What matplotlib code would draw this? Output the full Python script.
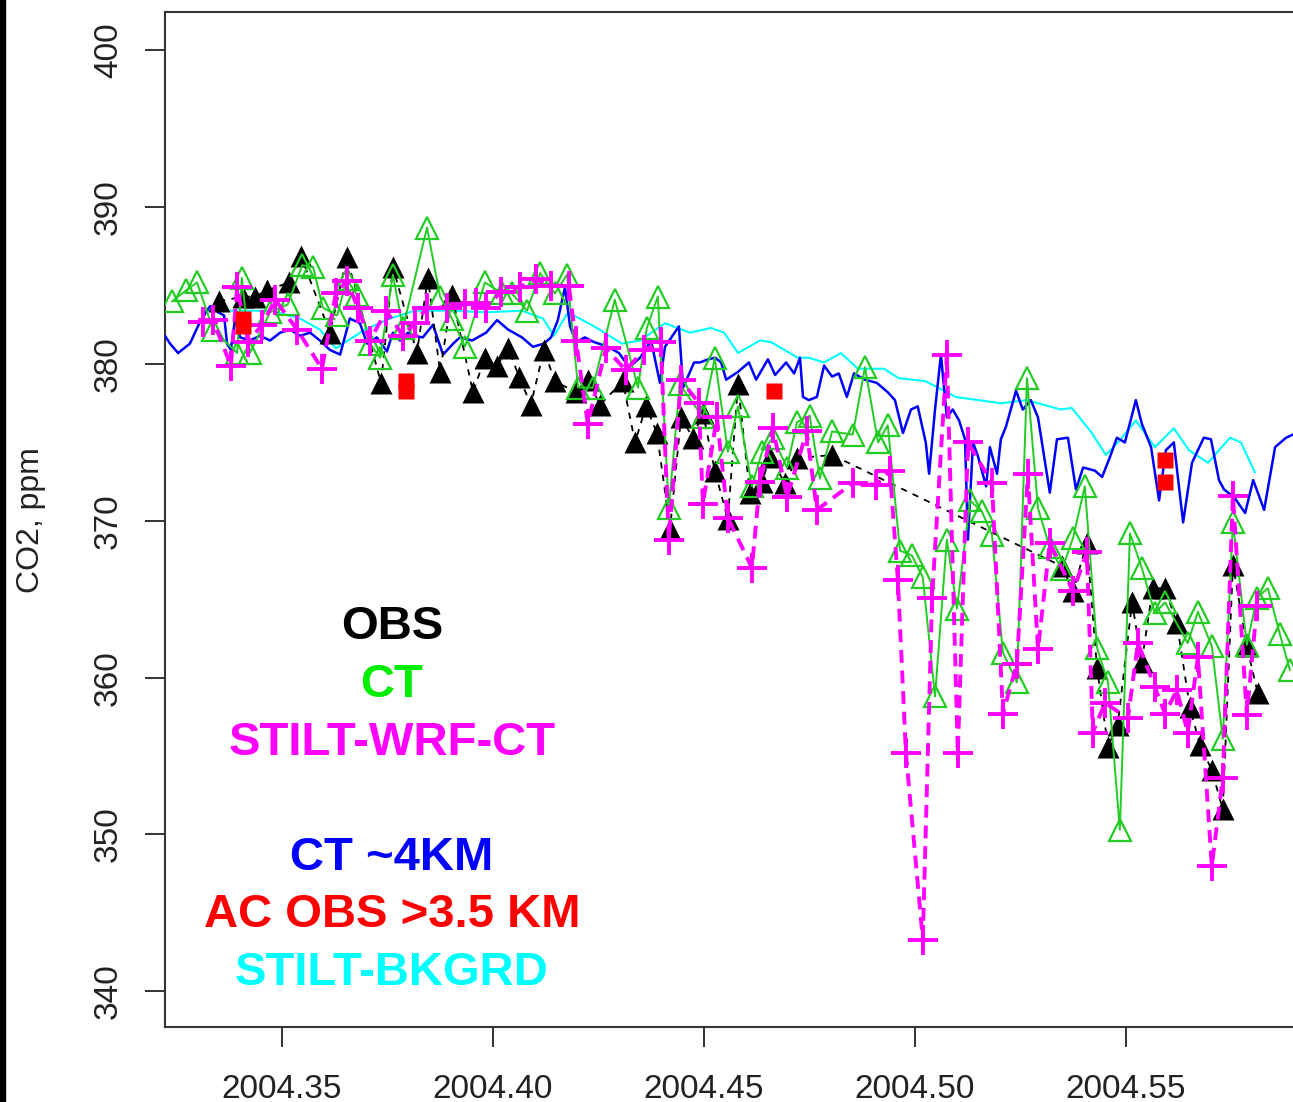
import matplotlib
matplotlib.use("Agg")
import matplotlib.pyplot as plt
from matplotlib.patches import Rectangle

plt.rcParams['font.family'] = ['Liberation Sans', 'DejaVu Sans']

# Tower observations (OBS)
obs_t = [2004.3351, 2004.3408, 2004.3436, 2004.3465, 2004.3517, 2004.3545, 2004.3614, 2004.3654,
         2004.3735, 2004.3763, 2004.3820, 2004.3846, 2004.3875, 2004.3903, 2004.3953, 2004.3981,
         2004.4010, 2004.4036, 2004.4062, 2004.4090, 2004.4121, 2004.4147, 2004.4197, 2004.4225,
         2004.4254, 2004.4308, 2004.4337, 2004.4363, 2004.4389, 2004.4420, 2004.4446, 2004.4474,
         2004.4498, 2004.4526, 2004.4557, 2004.4581, 2004.4609, 2004.4638, 2004.4657, 2004.4692,
         2004.4721, 2004.4804, 2004.5349, 2004.5375, 2004.5408, 2004.5432, 2004.5458, 2004.5481,
         2004.5515, 2004.5538, 2004.5564, 2004.5593, 2004.5621, 2004.5652, 2004.5676, 2004.5704,
         2004.5730, 2004.5754, 2004.5787, 2004.5813]
obs_co2 = [384.0, 384.3, 384.3, 384.7, 385.2, 386.9, 382.0, 386.8, 378.8, 386.2,
           380.7, 385.5, 379.5, 384.4, 378.2, 380.4, 379.9, 381.0, 379.2, 377.4,
           380.9, 378.9, 378.2, 379.0, 377.4, 378.9, 375.0, 377.3, 375.6, 369.5,
           376.6, 375.3, 376.9, 373.2, 370.1, 378.7, 371.8, 372.5, 374.1, 372.4,
           374.0, 374.2, 367.1, 365.5, 368.6, 360.6, 355.6, 357.0, 364.8, 361.0,
           365.7, 365.7, 363.5, 358.1, 355.7, 354.1, 351.6, 367.2, 362.0, 359.0]

# CarbonTracker sampled at the tower (CT)
ct_t = [2004.3240, 2004.3273, 2004.3299, 2004.3337, 2004.3394, 2004.3405, 2004.3424, 2004.3472,
        2004.3514, 2004.3548, 2004.3574, 2004.3597, 2004.3631, 2004.3654, 2004.3678, 2004.3709,
        2004.3733, 2004.3763, 2004.3787, 2004.3844, 2004.3875, 2004.3903, 2004.3934, 2004.3981,
        2004.4022, 2004.4045, 2004.4081, 2004.4112, 2004.4147, 2004.4176, 2004.4202, 2004.4237,
        2004.4289, 2004.4344, 2004.4365, 2004.4391, 2004.4417, 2004.4443, 2004.4498, 2004.4526,
        2004.4557, 2004.4581, 2004.4614, 2004.4638, 2004.4664, 2004.4697, 2004.4721, 2004.4751,
        2004.4775, 2004.4804, 2004.4853, 2004.4882, 2004.4913, 2004.4936, 2004.4965, 2004.4993,
        2004.5019, 2004.5048, 2004.5076, 2004.5100, 2004.5131, 2004.5159, 2004.5183, 2004.5209,
        2004.5242, 2004.5266, 2004.5292, 2004.5320, 2004.5349, 2004.5375, 2004.5403, 2004.5432,
        2004.5458, 2004.5486, 2004.5510, 2004.5538, 2004.5569, 2004.5593, 2004.5647, 2004.5671,
        2004.5704, 2004.5730, 2004.5754, 2004.5787, 2004.5811, 2004.5837, 2004.5865, 2004.5889]
ct_co2 = [384.0, 384.7, 385.2, 382.2, 380.7, 385.5, 380.7, 383.3, 383.8, 386.3,
          386.2, 383.6, 383.1, 385.4, 384.4, 381.3, 380.4, 385.7, 382.3, 388.7,
          384.3, 382.9, 381.1, 385.2, 384.5, 384.5, 383.4, 385.8, 384.5, 385.7,
          378.5, 378.5, 384.1, 378.5, 382.3, 384.3, 370.8, 378.7, 376.6, 380.4,
          374.4, 377.3, 372.2, 374.4, 375.3, 373.4, 376.3, 376.7, 372.7, 375.7,
          375.5, 379.8, 375.0, 376.1, 368.1, 367.8, 366.4, 358.8, 368.8, 364.4,
          371.3, 370.6, 369.1, 361.6, 359.7, 379.1, 370.8, 368.3, 366.9, 368.9,
          372.2, 361.9, 359.7, 350.3, 369.2, 367.0, 364.1, 364.8, 362.2, 364.2,
          362.0, 356.1, 369.9, 362.1, 365.1, 365.7, 362.8, 360.5]

# STILT driven by WRF with CT boundary conditions
stilt_t = [2004.3313, 2004.3337, 2004.3379, 2004.3394, 2004.3420, 2004.3453, 2004.3484, 2004.3536,
           2004.3595, 2004.3628, 2004.3654, 2004.3680, 2004.3709, 2004.3747, 2004.3787, 2004.3815,
           2004.3844, 2004.3891, 2004.3934, 2004.3960, 2004.3984, 2004.4019, 2004.4064, 2004.4102,
           2004.4138, 2004.4180, 2004.4197, 2004.4225, 2004.4268, 2004.4315, 2004.4358, 2004.4398,
           2004.4417, 2004.4446, 2004.4488, 2004.4498, 2004.4531, 2004.4557, 2004.4614, 2004.4633,
           2004.4664, 2004.4697, 2004.4744, 2004.4768, 2004.4853, 2004.4908, 2004.4941, 2004.4960,
           2004.4979, 2004.5019, 2004.5041, 2004.5076, 2004.5102, 2004.5126, 2004.5183, 2004.5209,
           2004.5242, 2004.5268, 2004.5292, 2004.5320, 2004.5375, 2004.5408, 2004.5422, 2004.5451,
           2004.5505, 2004.5529, 2004.5569, 2004.5593, 2004.5621, 2004.5647, 2004.5671, 2004.5704,
           2004.5730, 2004.5754, 2004.5787, 2004.5811]
stilt_co2 = [382.7, 382.8, 379.9, 384.9, 381.4, 382.5, 384.1, 382.2, 379.7, 384.5,
             385.3, 383.6, 381.5, 383.4, 381.8, 382.6, 383.6, 383.6, 383.8, 383.9,
             383.6, 384.6, 384.9, 385.4, 385.0, 385.0, 381.5, 376.2, 381.0, 379.6,
             380.9, 381.4, 368.8, 379.0, 377.5, 371.1, 376.6, 370.2, 367.0, 372.5,
             375.9, 371.5, 375.7, 370.7, 372.4, 372.3, 373.2, 366.2, 355.2, 343.3,
             365.1, 380.6, 355.2, 375.0, 372.4, 357.7, 360.9, 373.0, 361.8, 368.6,
             365.5, 368.0, 356.5, 358.4, 357.4, 362.2, 359.4, 357.7, 359.2, 356.5,
             361.3, 348.0, 353.6, 371.6, 357.6, 364.6]

# CarbonTracker at about 4 km
ct4km_t = [2004.3223, 2004.3235, 2004.3254, 2004.3282, 2004.3306, 2004.3330, 2004.3349, 2004.3363,
           2004.3370, 2004.3379, 2004.3389, 2004.3401, 2004.3424, 2004.3448, 2004.3472, 2004.3496,
           2004.3519, 2004.3543, 2004.3567, 2004.3590, 2004.3614, 2004.3638, 2004.3661, 2004.3685,
           2004.3702, 2004.3725, 2004.3749, 2004.3763, 2004.3780, 2004.3799, 2004.3811, 2004.3834,
           2004.3858, 2004.3882, 2004.3906, 2004.3922, 2004.3951, 2004.3984, 2004.4010, 2004.4036,
           2004.4069, 2004.4095, 2004.4121, 2004.4138, 2004.4154, 2004.4171, 2004.4183, 2004.4197,
           2004.4218, 2004.4240, 2004.4273, 2004.4299, 2004.4323, 2004.4349, 2004.4375, 2004.4396,
           2004.4408, 2004.4441, 2004.4451, 2004.4477, 2004.4491, 2004.4510, 2004.4527, 2004.4541,
           2004.4553, 2004.4581, 2004.4607, 2004.4624, 2004.4652, 2004.4669, 2004.4695, 2004.4714,
           2004.4728, 2004.4735, 2004.4749, 2004.4768, 2004.4785, 2004.4804, 2004.4820, 2004.4839,
           2004.4856, 2004.4882, 2004.4910, 2004.4936, 2004.4953, 2004.4972, 2004.4991, 2004.5007,
           2004.5026, 2004.5034, 2004.5048, 2004.5062, 2004.5076, 2004.5090, 2004.5105, 2004.5119,
           2004.5126, 2004.5138, 2004.5150, 2004.5169, 2004.5178, 2004.5195, 2004.5204, 2004.5216,
           2004.5240, 2004.5256, 2004.5275, 2004.5292, 2004.5320, 2004.5337, 2004.5363, 2004.5382,
           2004.5399, 2004.5427, 2004.5444, 2004.5463, 2004.5479, 2004.5498, 2004.5524, 2004.5538,
           2004.5560, 2004.5579, 2004.5595, 2004.5614, 2004.5636, 2004.5657, 2004.5685, 2004.5702,
           2004.5721, 2004.5733, 2004.5757, 2004.5783, 2004.5802, 2004.5828, 2004.5854, 2004.5880,
           2004.5896]
ct4km_co2 = [381.8, 381.3, 380.7, 381.3, 382.7, 383.7, 383.3, 383.1, 381.3, 380.9,
             382.9, 381.7, 381.5, 381.8, 381.5, 382.0, 382.2, 381.8, 382.0, 381.5,
             380.9, 380.6, 382.9, 382.6, 381.3, 381.7, 380.8, 382.0, 381.5, 382.0,
             381.8, 381.7, 382.5, 380.6, 381.3, 381.7, 381.5, 382.0, 382.8, 382.2,
             381.7, 381.1, 381.3, 381.7, 382.8, 384.9, 382.4, 381.4, 381.7, 381.4,
             381.1, 380.7, 379.8, 380.4, 381.5, 378.8, 381.1, 382.4, 378.5, 380.1,
             380.1, 380.3, 380.4, 380.1, 379.0, 379.5, 380.1, 379.0, 380.3, 379.3,
             380.1, 379.4, 380.4, 377.9, 377.7, 377.9, 379.9, 379.2, 379.4, 377.9,
             379.4, 379.0, 378.8, 378.2, 377.7, 375.6, 377.1, 377.3, 375.0, 373.0,
             377.1, 380.6, 376.6, 377.1, 376.4, 375.2, 368.8, 375.0, 374.1, 372.2,
             374.7, 373.0, 375.2, 376.0, 378.3, 377.1, 377.7, 376.6, 371.8, 375.2,
             375.3, 372.0, 373.4, 373.2, 372.8, 374.1, 375.3, 375.0, 377.7, 376.2,
             374.7, 371.3, 374.5, 375.0, 369.9, 373.7, 375.3, 375.2, 372.6, 372.0,
             371.5, 370.5, 372.6, 370.7, 374.7, 375.3, 375.5]

# Aircraft profiles above 3.5 km
ac_t = [2004.3408, 2004.3408, 2004.3794, 2004.3794, 2004.4666, 2004.5593, 2004.5593]
ac_co2 = [382.9, 382.4, 378.9, 378.3, 378.3, 373.9, 372.5]

# STILT background
bkg_t = [2004.3318, 2004.3401, 2004.3477, 2004.3543, 2004.3590, 2004.3628, 2004.3697, 2004.3756,
         2004.3815, 2004.3898, 2004.3984, 2004.4069, 2004.4119, 2004.4145, 2004.4178, 2004.4240,
         2004.4306, 2004.4349, 2004.4408, 2004.4467, 2004.4517, 2004.4548, 2004.4581, 2004.4633,
         2004.4659, 2004.4723, 2004.4749, 2004.4785, 2004.4825, 2004.4865, 2004.4927, 2004.4962,
         2004.5026, 2004.5097, 2004.5150, 2004.5204, 2004.5266, 2004.5346, 2004.5372, 2004.5417,
         2004.5453, 2004.5488, 2004.5524, 2004.5569, 2004.5614, 2004.5650, 2004.5695, 2004.5747,
         2004.5773, 2004.5806]
bkg_co2 = [383.4, 383.4, 383.4, 382.9, 382.2, 381.0, 382.2, 382.9, 383.4, 383.4,
           383.3, 383.4, 382.9, 381.8, 383.3, 382.4, 381.3, 381.5, 382.6, 382.0,
           382.3, 382.0, 380.7, 381.5, 381.4, 380.4, 380.4, 380.1, 380.7, 379.7,
           379.7, 379.1, 378.9, 377.9, 377.7, 377.5, 377.7, 377.1, 377.2, 375.7,
           374.2, 375.2, 376.4, 374.7, 375.9, 374.5, 373.7, 375.3, 375.0, 373.1]

x_ticks = [2004.35, 2004.40, 2004.45, 2004.50, 2004.55]
y_ticks = [340, 350, 360, 370, 380, 390, 400]

legend_rows = [("OBS", "black"), ("CT", "#00ee00"), ("STILT-WRF-CT", "magenta"),
               ("CT ~4KM", "blue"), ("AC OBS >3.5 KM", "red"), ("STILT-BKGRD", "cyan")]

fig = plt.figure(figsize=(12.93, 11.02), dpi=100)
ax = fig.add_axes([165 / 1293, 75 / 1102, 1135 / 1293, 1015 / 1102])

ax.plot(bkg_t, bkg_co2, color="cyan", lw=1.5, zorder=2)
ax.plot(ct4km_t, ct4km_co2, color="blue", lw=1.8, zorder=3)
ax.plot(obs_t, obs_co2, color="black", lw=1.3, ls=(0, (3.5, 3.5)),
        marker="^", ms=15.5, mec="none", mfc="black", zorder=4)
ax.plot(ct_t, ct_co2, color="#22cc22", lw=1.4, marker="^", ms=15.5,
        mfc="none", mec="#22cc22", mew=1.6, zorder=5)
ax.plot(stilt_t, stilt_co2, color="magenta", lw=2.8, ls=(0, (3.3, 2.0)),
        marker="+", ms=21, mew=2.8, zorder=6)
ax.plot(ac_t, ac_co2, ls="none", marker="s", ms=12, mfc="red", mec="none", zorder=7)

ax.set_xlim(2004.3223, 2004.5913)
ax.set_ylim(337.72, 402.45)
ax.set_xticks(x_ticks)
ax.set_xticklabels([f"{v:.2f}" for v in x_ticks])
ax.set_yticks(y_ticks)
ax.set_yticklabels([str(v) for v in y_ticks], rotation=90, va="center")

ax.tick_params(axis="both", length=14.5, width=1.4, color="#333333",
               labelsize=24, labelcolor="#222222", pad=19)
ax.tick_params(axis="y", pad=15)
for side in ["left", "bottom", "top", "right"]:
    ax.spines[side].set_linewidth(1.5)
    ax.spines[side].set_color("#333333")

fig.text(31 / 1293, 1 - 520 / 1102, "CO2, ppm", rotation=90, fontsize=23,
         color="#222222", ha="center", va="center")

# colour key written as stacked labels
row_y = [0.3823, 0.3251, 0.2680, 0.1547, 0.0985, 0.0414]
for (label, col), yy in zip(legend_rows, row_y):
    ax.text(0.2, yy, label, transform=ax.transAxes, color=col, fontsize=34,
            fontweight="bold", ha="center", va="baseline", zorder=8)

# dark strip along the left edge
fig.patches.append(Rectangle((0, 0), 5 / 1293, 1, transform=fig.transFigure,
                             color="black", zorder=10))

fig.savefig("out.png", dpi=100)
